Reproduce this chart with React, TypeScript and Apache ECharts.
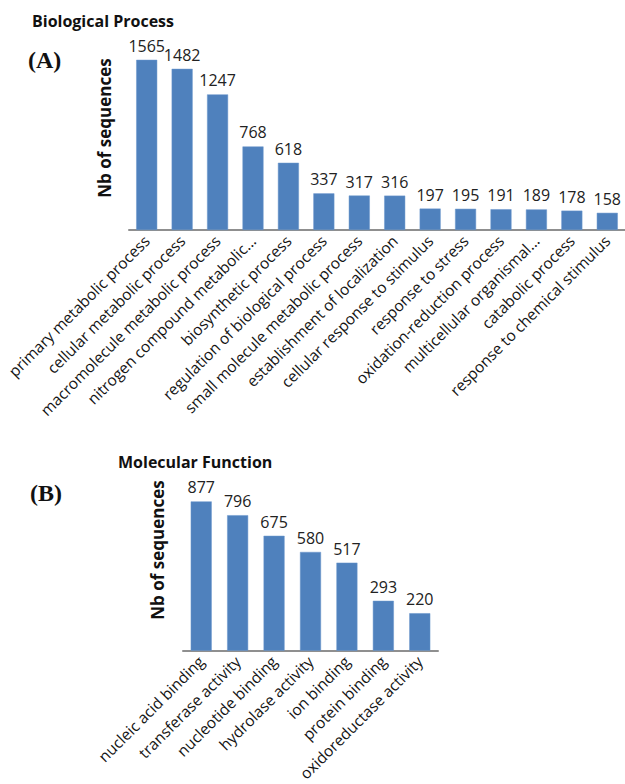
import React, { useEffect, useRef } from "react";
import * as echarts from "echarts";

const bpCategories = [
  "primary metabolic process",
  "cellular metabolic process",
  "macromolecule metabolic process",
  "nitrogen compound metabolic...",
  "biosynthetic process",
  "regulation of biological process",
  "small molecule metabolic process",
  "establishment of localization",
  "cellular response to stimulus",
  "response to stress",
  "oxidation-reduction process",
  "multicellular organismal...",
  "catabolic process",
  "response to chemical stimulus",
];
const bpValues = [1565, 1482, 1247, 768, 618, 337, 317, 316, 197, 195, 191, 189, 178, 158];

const mfCategories = [
  "nucleic acid binding",
  "transferase activity",
  "nucleotide binding",
  "hydrolase activity",
  "ion binding",
  "protein binding",
  "oxidoreductase activity",
];
const mfValues = [877, 796, 675, 580, 517, 293, 220];

const FONT = "'Open Sans', 'DejaVu Sans', sans-serif";
const BAR = "#4F81BD";

export default function App() {
  const ref = useRef<HTMLDivElement>(null);
  useEffect(() => {
    if (!ref.current) return;
    const chart = echarts.init(ref.current, undefined, { renderer: "svg" });
    const xAxisCommon = {
      type: "category" as const,
      axisLine: { show: true, lineStyle: { color: "#8f8f8f", width: 2 } },
      axisTick: { show: false },
      axisLabel: {
        rotate: 45,
        interval: 0,
        margin: 8,
        fontFamily: FONT,
        fontSize: 15.5,
        color: "#141414",
      },
    };
    const yAxisCommon = {
      type: "value" as const,
      min: 0,
      axisLine: { show: false },
      axisTick: { show: false },
      axisLabel: { show: false },
      splitLine: { show: false },
    };
    const labelCommon = {
      show: true,
      position: "top" as const,
      distance: 6,
      fontFamily: FONT,
      fontSize: 16,
      color: "#222",
    };
    chart.setOption({
      animation: false,
      backgroundColor: "#ffffff",
      grid: [
        { left: 129, width: 499, top: 56, height: 174 },
        { left: 183, width: 255, top: 497.5, height: 153.5 },
      ],
      xAxis: [
        { ...xAxisCommon, gridIndex: 0, data: bpCategories },
        { ...xAxisCommon, gridIndex: 1, data: mfCategories },
      ],
      yAxis: [
        { ...yAxisCommon, gridIndex: 0, max: 1600 },
        { ...yAxisCommon, gridIndex: 1, max: 900 },
      ],
      series: [
        {
          type: "bar",
          xAxisIndex: 0,
          yAxisIndex: 0,
          data: bpValues,
          barWidth: 21,
          itemStyle: { color: BAR, borderColor: "#6a96cc", borderWidth: 0.5 },
          label: labelCommon,
        },
        {
          type: "bar",
          xAxisIndex: 1,
          yAxisIndex: 1,
          data: mfValues,
          barWidth: 21,
          itemStyle: { color: BAR, borderColor: "#6a96cc", borderWidth: 0.5 },
          label: labelCommon,
        },
      ],
      graphic: [
        {
          type: "text",
          x: 32,
          y: 21,
          style: {
            text: "Biological Process",
            fontFamily: FONT,
            fontWeight: "bold",
            fontSize: 16,
            fill: "#111",
            textVerticalAlign: "middle",
          },
        },
        {
          type: "text",
          x: 28,
          y: 60,
          style: {
            text: "(A)",
            fontFamily: "'Liberation Serif', 'DejaVu Serif', serif",
            fontWeight: "bold",
            fontSize: 24,
            fill: "#111",
            textVerticalAlign: "middle",
          },
        },
        {
          type: "text",
          x: 104,
          y: 128,
          rotation: Math.PI / 2,
          style: {
            text: "Nb of sequences",
            fontFamily: FONT,
            fontWeight: "bold",
            fontSize: 17,
            fill: "#111",
            textAlign: "center",
            textVerticalAlign: "middle",
          },
        },
        {
          type: "text",
          x: 118,
          y: 462,
          style: {
            text: "Molecular Function",
            fontFamily: FONT,
            fontWeight: "bold",
            fontSize: 16,
            fill: "#111",
            textVerticalAlign: "middle",
          },
        },
        {
          type: "text",
          x: 30,
          y: 493,
          style: {
            text: "(B)",
            fontFamily: "'Liberation Serif', 'DejaVu Serif', serif",
            fontWeight: "bold",
            fontSize: 24,
            fill: "#111",
            textVerticalAlign: "middle",
          },
        },
        {
          type: "text",
          x: 157.5,
          y: 550,
          rotation: Math.PI / 2,
          style: {
            text: "Nb of sequences",
            fontFamily: FONT,
            fontWeight: "bold",
            fontSize: 17,
            fill: "#111",
            textAlign: "center",
            textVerticalAlign: "middle",
          },
        },
      ],
    });
    return () => chart.dispose();
  }, []);
  return (
    <div
      ref={ref}
      style={{ position: "absolute", left: 0, top: 0, width: 625, height: 784 }}
    />
  );
}
